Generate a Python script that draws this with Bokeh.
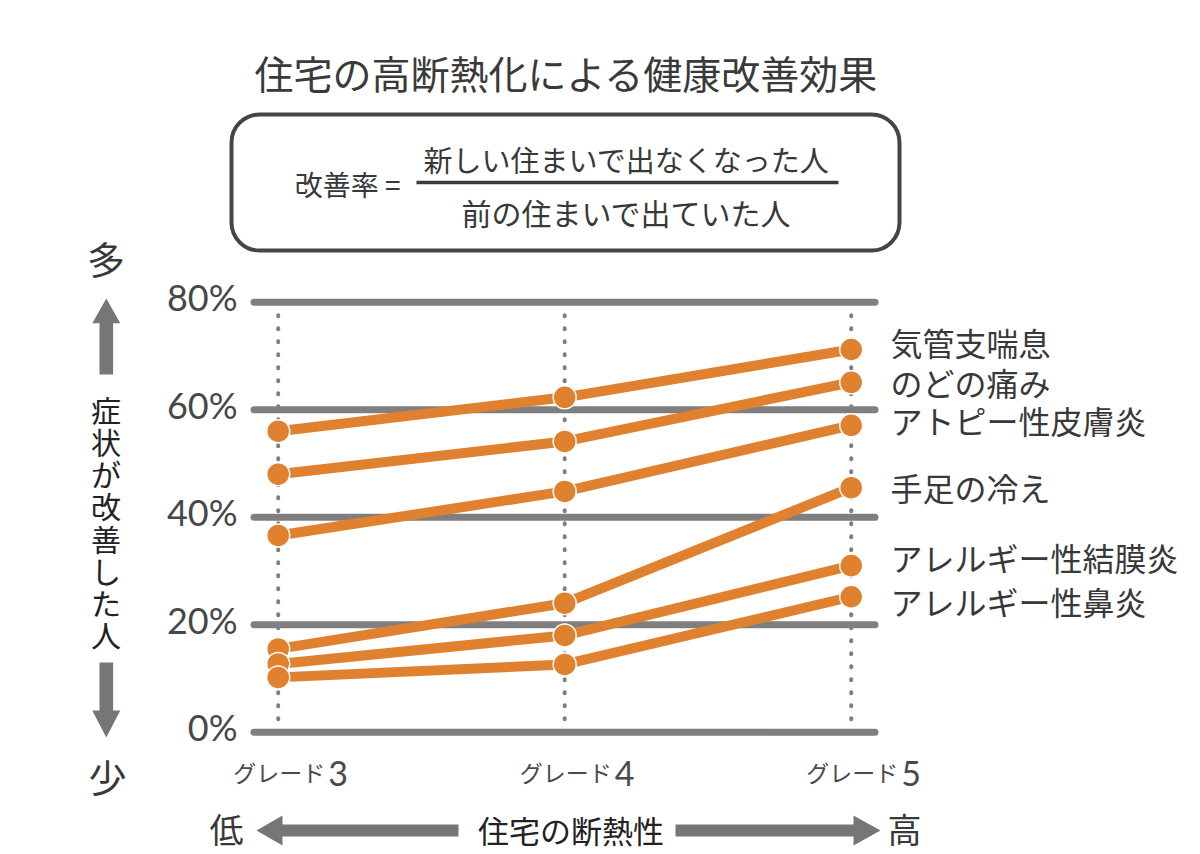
from bokeh.plotting import figure
from bokeh.models import Range1d, BoxAnnotation, ColumnDataSource
from bokeh.core.properties import value
from bokeh.embed import file_html
from bokeh.resources import INLINE

# ---------------- data ----------------
title = "住宅の高断熱化による健康改善効果"
formula_left = "改善率 ="
formula_num = "新しい住まいで出なくなった人"
formula_den = "前の住まいで出ていた人"
grades = ["グレード3", "グレード4", "グレード5"]
symptoms = ["気管支喘息", "のどの痛み", "アトピー性皮膚炎", "手足の冷え",
            "アレルギー性結膜炎", "アレルギー性鼻炎"]
grade3 = [56.0, 48.0, 36.6, 15.5, 12.7, 10.2]
grade4 = [62.3, 54.1, 44.8, 24.0, 18.0, 12.6]
grade5 = [71.2, 65.1, 57.1, 45.5, 31.0, 25.2]
y_ticks = [0, 20, 40, 60, 80]
y_tick_labels = ["0%", "20%", "40%", "60%", "80%"]
y_axis_title = "症状が改善した人"
y_top, y_bottom = "多", "少"
x_axis_title = "住宅の断熱性"
x_left, x_right = "低", "高"

# ---------------- style / layout ----------------
W, H = 1200, 854
JP = "Noto Sans CJK JP"
NUM = "Lato"
TXT = "#383838"
GRAY = "#7f7f7f"
ARROW = "#767676"
ORANGE = "#e0812f"
label_dy = [-8, 0, -5, -1, -9, 4]   # pixel nudges of right-hand labels

# reference-pixel -> data helpers (for decorations only)
GX0, GDX = 277.7, 286.5
Y0, YPX = 731.7, 5.375
def X(rx):
    return (rx - GX0) / GDX
def Y(ry):
    return (Y0 - ry) / YPX

p = figure(width=W, height=H, output_backend="svg", toolbar_location=None,
           x_range=Range1d(X(0), X(W)), y_range=Range1d(Y(H), Y(0)),
           x_axis_type=None, y_axis_type=None, min_border=0,
           outline_line_color=None, background_fill_color="white",
           border_fill_color="white")
for g in p.grid:
    g.visible = False

def T(rx, ry, s, size, font=JP, color=TXT, align="center", baseline="middle", **kw):
    p.text(x=[X(rx)], y=[Y(ry)], text=[s], text_font=value(font),
           text_font_size=size, text_color=color, text_align=align,
           text_baseline=baseline, **kw)

# title
T(566, 71, title, "39px", color="#3a3a3a")

# formula box
box = BoxAnnotation(left=X(231), right=X(899), top=Y(114), bottom=Y(250),
                    fill_alpha=0, line_color="#454545", line_alpha=1.0,
                    line_width=4, border_radius=28)
p.add_layout(box)
T(400, 183, formula_left, "28px", align="right")
T(626, 158, formula_num, "29px")
T(626, 211, formula_den, "30px")
p.segment(x0=[X(416)], y0=[Y(182)], x1=[X(838)], y1=[Y(182)],
          line_color="#3a3a3a", line_width=3.5)

idx = list(range(len(grades)))

# vertical dotted guides
p.segment(x0=idx, y0=[y_ticks[0]] * len(idx), x1=idx, y1=[y_ticks[-1]] * len(idx),
          line_color=GRAY, line_width=4, line_dash="1 12", line_cap="round")

# horizontal grid lines
p.segment(x0=[X(253.5)] * len(y_ticks), y0=y_ticks,
          x1=[X(874.5)] * len(y_ticks), y1=y_ticks,
          line_color=GRAY, line_width=7, line_cap="round")

# y tick labels
p.text(x=[X(237)] * len(y_ticks), y=y_ticks, text=y_tick_labels,
       text_font=value(NUM), text_font_size="36px", text_color="#474747",
       text_align="right", text_baseline="middle", y_offset=-5)

# grade labels (kana small, digit large)
kana = [g[:-1] for g in grades]
digit = [g[-1] for g in grades]
split = 48 / GDX
p.text(x=[i + split - 1 / GDX for i in idx], y=[Y(771)] * len(idx), text=kana,
       text_font=value(JP), text_font_size="23px", text_color="#4a4a4a",
       text_align="right", text_baseline="middle")
p.text(x=[i + split + 2 / GDX for i in idx], y=[Y(773)] * len(idx), text=digit,
       text_font=value(NUM), text_font_size="34px", text_color="#4a4a4a",
       text_align="left", text_baseline="middle")

# data lines and markers
rows = list(zip(grade3, grade4, grade5))
src = ColumnDataSource(dict(xs=[idx] * len(rows), ys=[list(r) for r in rows]))
p.multi_line(xs="xs", ys="ys", source=src, line_color=ORANGE, line_width=10,
             line_join="round")
px, py = [], []
for r in rows:
    px += idx
    py += list(r)
p.scatter(x=px, y=py, size=23, fill_color=ORANGE, line_color="white",
          line_width=1.5)

# right-hand labels
p.text(x=[X(890)] * len(symptoms), y=grade5, text=symptoms, y_offset=label_dy,
       text_font=value(JP), text_font_size="32px", text_color=TXT,
       text_align="left", text_baseline="middle")

# left vertical indicator
T(105.5, 257, y_top, "38px")
T(107, 775, y_bottom, "38px")
T(105.5, 521, "\n".join(y_axis_title), "30px", color="#222222",
  text_line_height=0.73)
up = [(105.8, 298), (119.8, 322.7), (112.6, 322.7), (112.6, 374),
      (99, 374), (99, 322.7), (91.8, 322.7)]
down = [(105.8, 737), (119.8, 710), (112.6, 710), (112.6, 662),
        (99, 662), (99, 710), (91.8, 710)]
# bottom indicator
left_arrow = [(256, 830), (282, 815), (282, 824), (458, 824), (458, 836),
              (282, 836), (282, 845)]
right_arrow = [(880, 830), (853, 815), (853, 824), (675, 824), (675, 836),
               (853, 836), (853, 845)]
polys = [up, down, left_arrow, right_arrow]
p.patches(xs=[[X(a) for a, b in poly] for poly in polys],
          ys=[[Y(b) for a, b in poly] for poly in polys],
          fill_color=ARROW, line_color=None)
T(226, 828, x_left, "34px")
T(904, 828, x_right, "34px")
T(570.5, 829, x_axis_title, "31px", color="#222222")

open("out.html", "w").write(file_html(p, INLINE))
